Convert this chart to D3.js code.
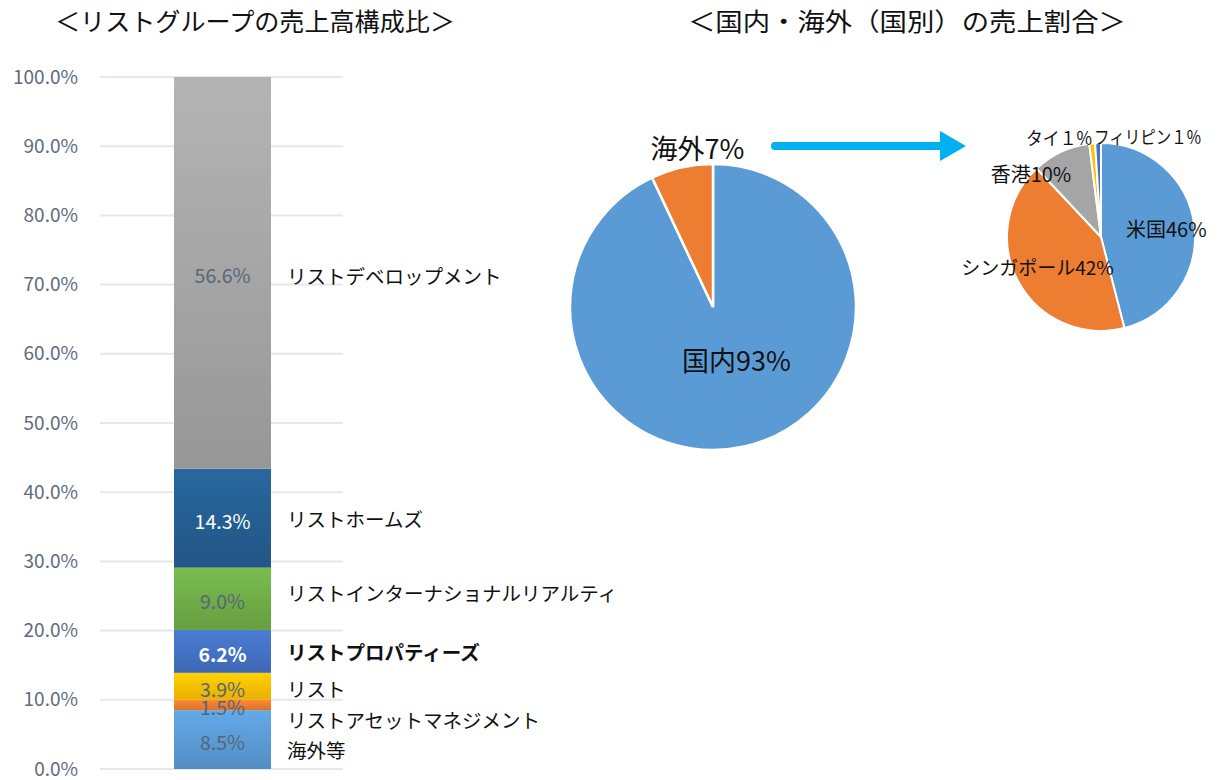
<!DOCTYPE html>
<html>
<head>
<meta charset="utf-8">
<script src="https://cdn.jsdelivr.net/npm/d3@7"></script>
<style>
  body { margin: 0; background: #fff; }
  svg text { font-family: "Noto Sans CJK JP", "Noto Sans", sans-serif; }
</style>
</head>
<body>
<div id="chart"></div>
<script>
// ---- data ----
const segNames = ["海外等", "リストアセットマネジメント", "リスト", "リストプロパティーズ",
                  "リストインターナショナルリアルティ", "リストホームズ", "リストデベロップメント"];
const segValues = [8.5, 1.5, 3.9, 6.2, 9.0, 14.3, 56.6];
const segColors = ["#5b9bd5", "#ed7d31", "#ffc000", "#4472c4", "#70ad47", "#255e91", "#a5a5a5"];
const yTicks = [0, 10, 20, 30, 40, 50, 60, 70, 80, 90, 100];

const domNames = ["国内", "海外"];
const domValues = [93, 7];
const domColors = ["#5b9bd5", "#ed7d31"];

const ctyNames = ["米国", "シンガポール", "香港", "タイ", "フィリピン"];
const ctyValues = [46, 42, 10, 1, 1];
const ctyLabels = ["米国46%", "シンガポール42%", "香港10%", "タイ１%", "フィリピン１%"];
const ctyColors = ["#5b9bd5", "#ed7d31", "#a5a5a5", "#ffc000", "#4472c4"];

const W = 1222, H = 780;
const numFont = "'Open Sans', 'Noto Sans', sans-serif";
const svg = d3.select("#chart").append("svg")
    .attr("width", W).attr("height", H);
const defs = svg.append("defs");

// titles
svg.append("text")
    .attr("x", 55).attr("y", 31)
    .attr("font-size", "25px").attr("fill", "#111")
    .attr("textLength", 400).attr("lengthAdjust", "spacingAndGlyphs")
    .text("＜リストグループの売上高構成比＞");
svg.append("text")
    .attr("x", 688).attr("y", 31)
    .attr("font-size", "25px").attr("fill", "#111")
    .attr("textLength", 438).attr("lengthAdjust", "spacingAndGlyphs")
    .text("＜国内・海外（国別）の売上割合＞");

// ---- stacked bar ----
const y = d3.scaleLinear().domain([0, 100]).range([769, 77]);
const barX = 174, barW = 97;

// gridlines
svg.append("g").selectAll("line")
    .data(yTicks).join("line")
    .attr("x1", 100).attr("x2", 343)
    .attr("y1", d => y(d)).attr("y2", d => y(d))
    .attr("stroke", "#e6e7ec").attr("stroke-width", 2);

// axis labels
const yAxis = d3.axisLeft(y).tickValues(yTicks)
    .tickFormat(d => d.toFixed(1) + "%").tickSize(0).tickPadding(0);
svg.append("g")
    .attr("transform", "translate(78,0)")
    .call(yAxis)
    .call(g => g.select(".domain").remove())
    .selectAll("text")
    .attr("font-family", numFont)
    .attr("font-size", "19px")
    .attr("fill", "#5d6b7c");

// stack
let acc = 0;
const segs = segValues.map((v, i) => {
  const s = { name: segNames[i], value: v, y0: acc, y1: acc + v, color: segColors[i], i: i };
  acc += v;
  return s;
});

segs.forEach(s => {
  const g = defs.append("linearGradient")
      .attr("id", "grad" + s.i).attr("x1", 0).attr("y1", 0).attr("x2", 0).attr("y2", 1);
  g.append("stop").attr("offset", "0%").attr("stop-color", d3.color(s.color).brighter(0.25));
  g.append("stop").attr("offset", "100%").attr("stop-color", d3.color(s.color).darker(0.25));
});

svg.append("g").selectAll("rect")
    .data(segs).join("rect")
    .attr("x", barX).attr("width", barW)
    .attr("y", d => y(d.y1))
    .attr("height", d => y(d.y0) - y(d.y1))
    .attr("fill", d => "url(#grad" + d.i + ")");

// value labels
const whiteLbl = ["リストホームズ", "リストプロパティーズ"];
svg.append("g").selectAll("text")
    .data(segs).join("text")
    .attr("x", barX + barW / 2)
    .attr("y", d => y((d.y0 + d.y1) / 2) + 2)
    .attr("dominant-baseline", "central")
    .attr("text-anchor", "middle")
    .attr("font-family", numFont)
    .attr("font-size", "19.5px")
    .attr("font-weight", d => d.name === "リストプロパティーズ" ? "bold" : "normal")
    .attr("fill", d => whiteLbl.includes(d.name) ? "#fff" : "#56657a")
    .text(d => d.value.toFixed(1) + "%");

// category labels (nudged to avoid overlap)
const nudge = [10, 15, 2, 0, -6, 0, 3];
svg.append("g").selectAll("text")
    .data(segs).join("text")
    .attr("x", 287)
    .attr("y", d => y((d.y0 + d.y1) / 2) + nudge[d.i])
    .attr("dominant-baseline", "central")
    .attr("font-size", "19.5px")
    .attr("font-weight", d => d.name === "リストプロパティーズ" ? "bold" : "normal")
    .attr("fill", "#111")
    .text(d => d.name);

// ---- domestic / overseas pie ----
const pie = d3.pie().sort(null).value(d => d);
const r1 = 143;
const p1 = svg.append("g").attr("transform", "translate(713,307)");
const arc1 = d3.arc().innerRadius(0).outerRadius(r1);
const domArcs = pie(domValues);
p1.selectAll("path")
    .data(domArcs).join("path")
    .attr("d", arc1)
    .attr("fill", (d, i) => domColors[i])
    .attr("stroke", "#fff").attr("stroke-width", 2.5);

const lbl1 = d3.arc().innerRadius(r1 * 0.37).outerRadius(r1 * 0.37);
const lbl1out = d3.arc().innerRadius(r1 * 1.14).outerRadius(r1 * 1.14);
p1.append("text")
    .attr("transform", "translate(" + lbl1.centroid(domArcs[0]) + ")")
    .attr("dx", 12).attr("dy", 1)
    .attr("text-anchor", "middle").attr("dominant-baseline", "central")
    .attr("font-size", "27px").attr("fill", "#111")
    .text(domNames[0] + domValues[0] + "%");
p1.append("text")
    .attr("transform", "translate(" + lbl1out.centroid(domArcs[1]) + ")")
    .attr("dx", 20).attr("dy", 0)
    .attr("text-anchor", "middle").attr("dominant-baseline", "central")
    .attr("font-size", "27px").attr("fill", "#111")
    .text(domNames[1] + domValues[1] + "%");

// arrow
svg.append("line")
    .attr("x1", 775).attr("x2", 942).attr("y1", 146).attr("y2", 146)
    .attr("stroke", "#00b0f0").attr("stroke-width", 8).attr("stroke-linecap", "round");
svg.append("path")
    .attr("d", "M940,131 L966,146 L940,161 Z")
    .attr("fill", "#00b0f0");

// ---- country pie ----
const r2 = 94;
const p2 = svg.append("g").attr("transform", "translate(1101,237)");
const arc2 = d3.arc().innerRadius(0).outerRadius(r2);
const ctyArcs = pie(ctyValues);
p2.selectAll("path")
    .data(ctyArcs).join("path")
    .attr("d", arc2)
    .attr("fill", (d, i) => ctyColors[i])
    .attr("stroke", "#fff").attr("stroke-width", 2);

// label placement
const lblR = [0.7, 0.77, 1.0, 1.02, 1.02];
const lblDx = [0, 0, -30, 0, -4];
const lblDy = [0, -5, 22, -5, -5];
const lblAnchor = ["middle", "middle", "middle", "end", "start"];
const lblSize = [20, 19, 20, 18, 18];
const lblLen = [null, null, null, 66, 107];
p2.selectAll("text")
    .data(ctyArcs).join("text")
    .attr("transform", (d, i) => {
      const a = d3.arc().innerRadius(r2 * lblR[i]).outerRadius(r2 * lblR[i]);
      const c = a.centroid(d);
      return "translate(" + (c[0] + lblDx[i]) + "," + (c[1] + lblDy[i]) + ")";
    })
    .attr("text-anchor", (d, i) => lblAnchor[i])
    .attr("dominant-baseline", "central")
    .attr("font-size", (d, i) => lblSize[i] + "px").attr("fill", "#111")
    .attr("textLength", (d, i) => lblLen[i])
    .attr("lengthAdjust", "spacingAndGlyphs")
    .text((d, i) => ctyLabels[i]);
</script>
</body>
</html>
